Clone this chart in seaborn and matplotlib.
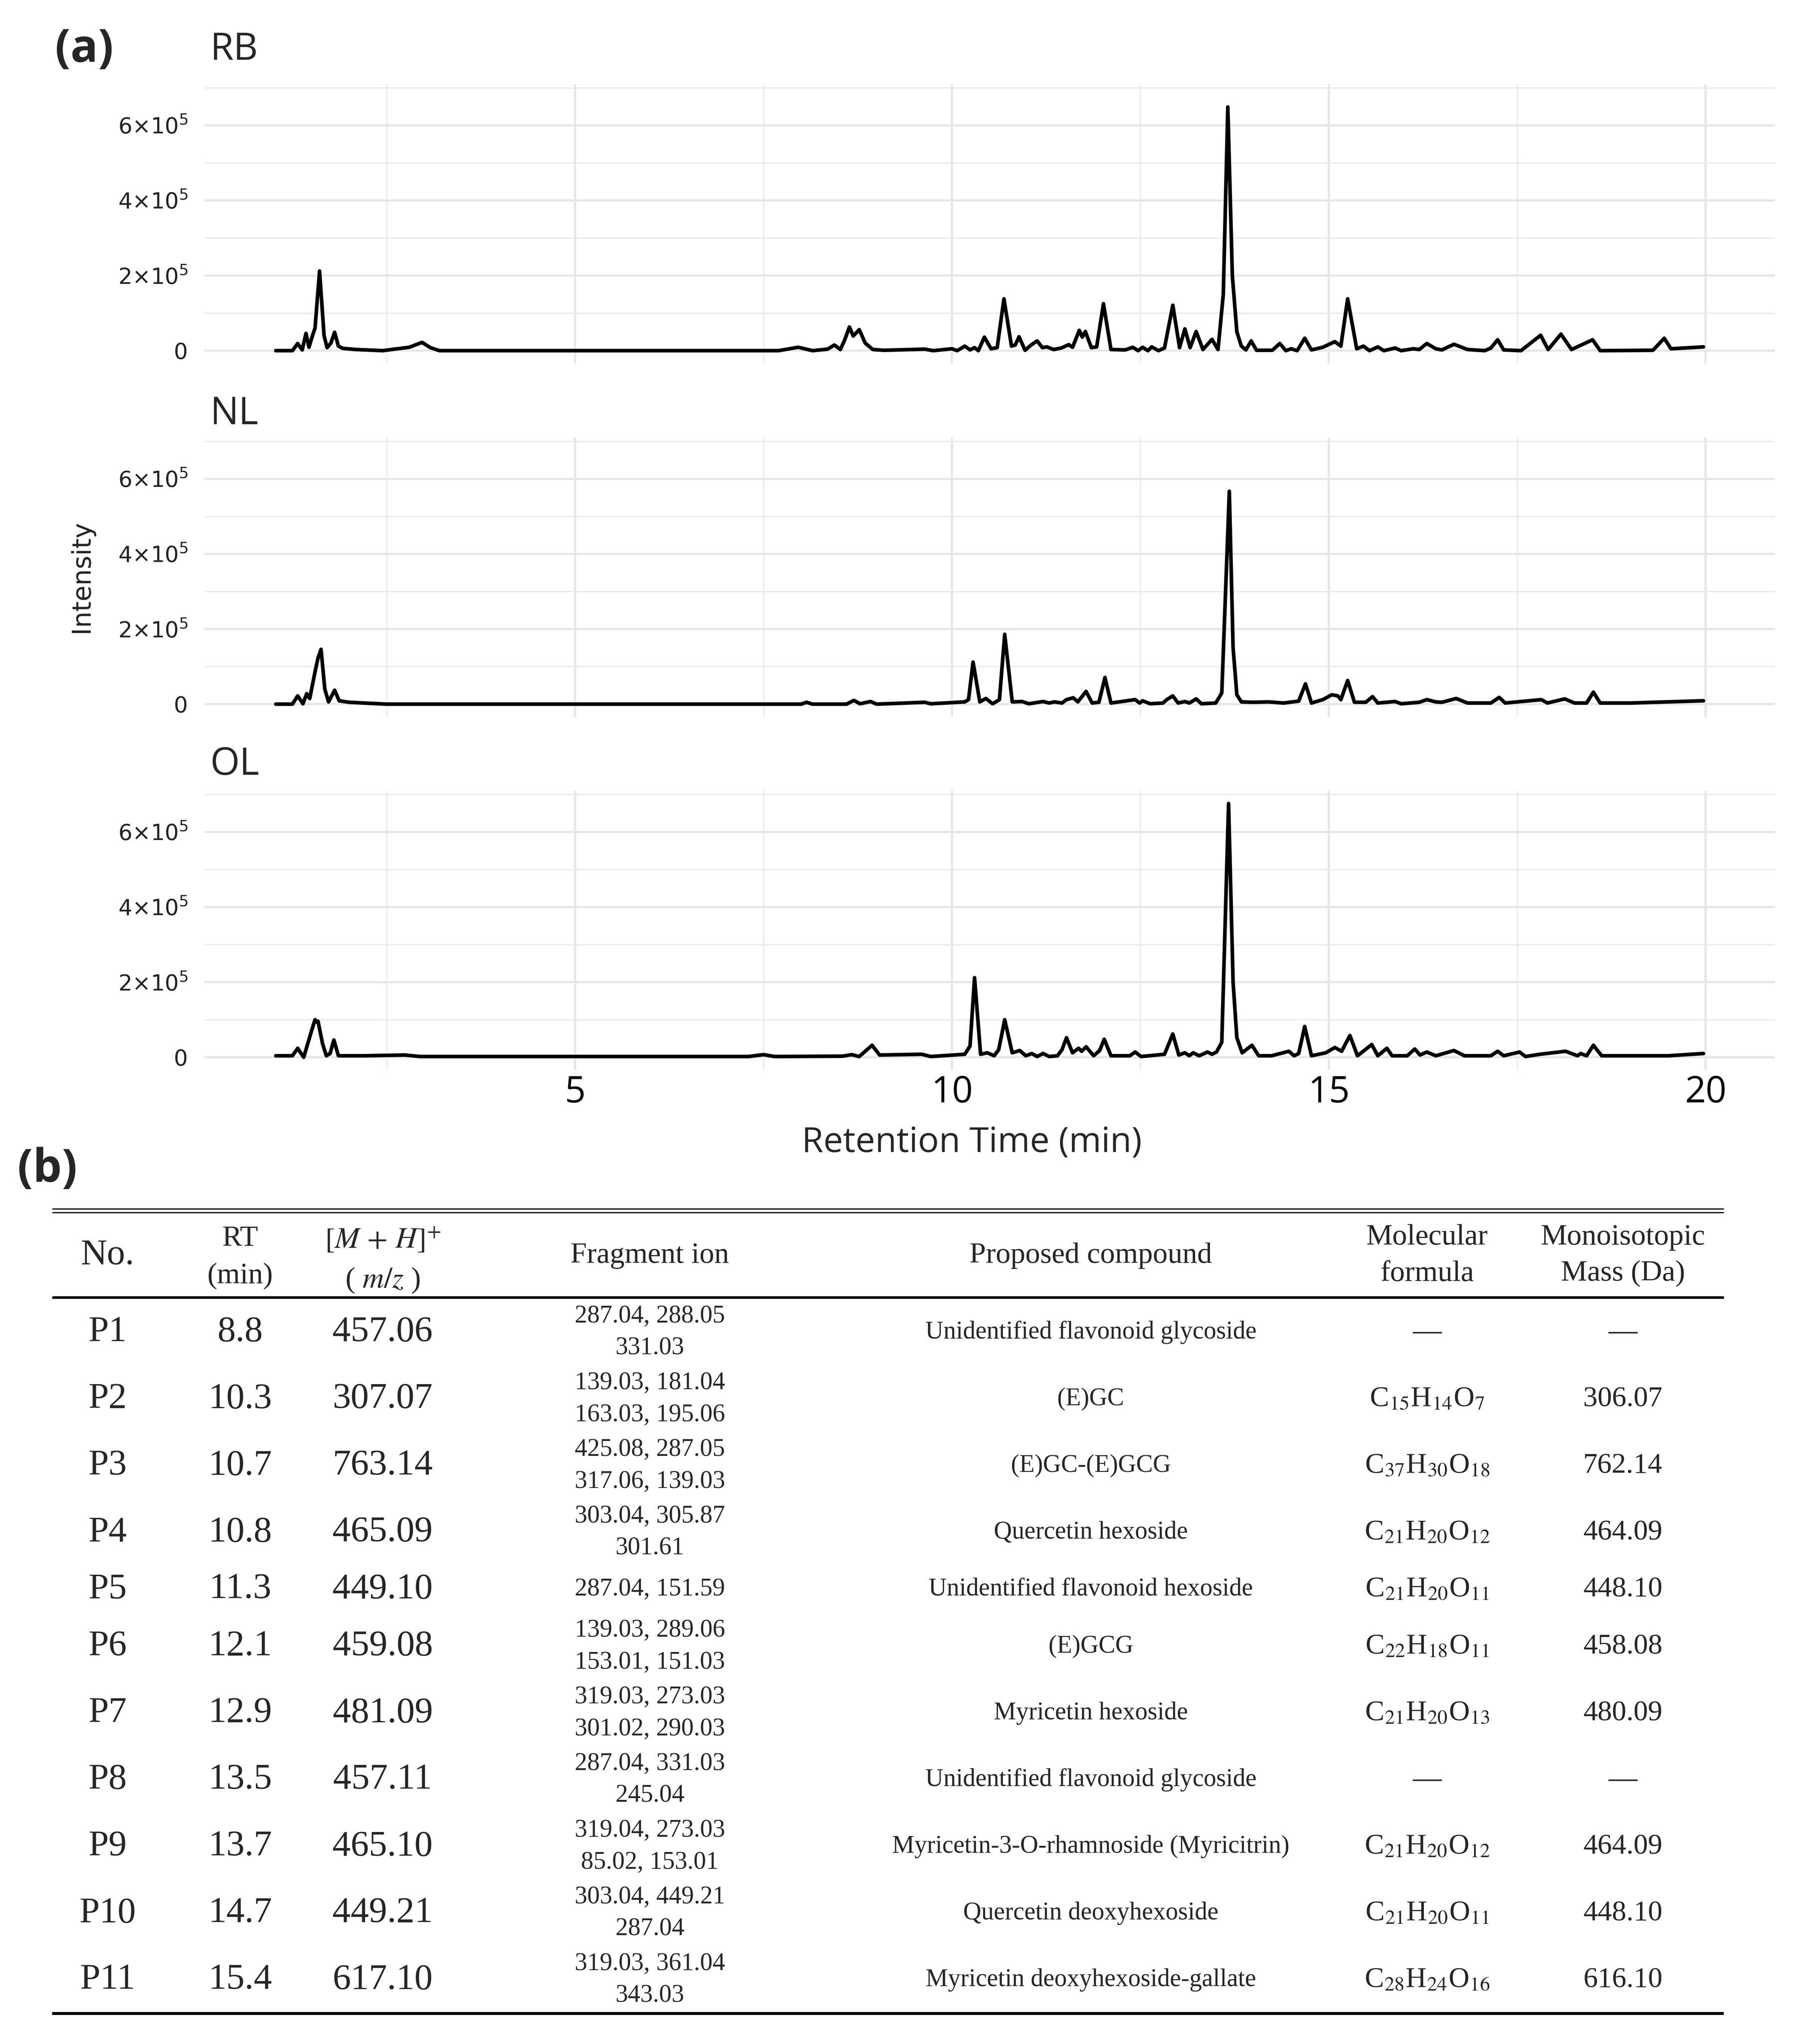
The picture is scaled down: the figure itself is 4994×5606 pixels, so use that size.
import re
import pandas as pd
import matplotlib
matplotlib.use("Agg")
import matplotlib.pyplot as plt
from matplotlib.ticker import MultipleLocator, FuncFormatter
import seaborn as sns

# ---- (a) chromatograms: retention time (min) / intensity
rb_time = [1.03, 1.25, 1.32, 1.38, 1.43, 1.47, 1.51, 1.55, 1.61, 1.67, 1.71, 1.76, 1.81, 1.86, 1.92, 2.10, 2.45,
           2.60, 2.80, 2.97, 3.08, 3.20, 7.70, 7.96, 8.15, 8.35, 8.44, 8.52, 8.58, 8.64, 8.69, 8.77, 8.85, 8.95,
           9.10, 9.64, 9.75, 10.00, 10.07, 10.17, 10.24, 10.30, 10.35, 10.43, 10.52, 10.60, 10.69, 10.79, 10.84,
           10.89, 10.97, 11.05, 11.13, 11.20, 11.26, 11.35, 11.45, 11.55, 11.60, 11.69, 11.73, 11.77, 11.85,
           11.92, 12.01, 12.11, 12.30, 12.40, 12.47, 12.53, 12.60, 12.65, 12.74, 12.82, 12.93, 13.02, 13.09,
           13.16, 13.24, 13.33, 13.45, 13.53, 13.60, 13.66, 13.72, 13.78, 13.84, 13.90, 13.97, 14.04, 14.25,
           14.35, 14.43, 14.50, 14.58, 14.68, 14.77, 14.92, 15.08, 15.16, 15.25, 15.37, 15.46, 15.54, 15.65,
           15.73, 15.88, 15.96, 16.12, 16.20, 16.30, 16.42, 16.50, 16.66, 16.84, 17.07, 17.15, 17.24, 17.32,
           17.55, 17.81, 17.91, 18.08, 18.22, 18.50, 18.60, 19.30, 19.45, 19.54, 19.97]
rb_int = [0, 0, 19000, 2000, 46000, 9000, 36000, 60000, 212000, 40000, 8000, 20000, 49000, 12000, 6000, 3000, 0,
          4000, 9000, 22000, 8000, 0, 0, 9000, 0, 4000, 15000, 3000, 30000, 63000, 39000, 56000, 20000, 3000,
          1000, 4000, 0, 5000, 0, 12000, 2000, 8000, 0, 36000, 5000, 8000, 138000, 12000, 15000,
          37000, 1000, 15000, 26000, 8000, 10000, 3000, 7000, 16000, 9000, 54000, 36000, 51000, 8000,
          10000, 125000, 3000, 2000, 9000, 0, 9000, 0, 10000, 0, 7000, 121000, 8000, 58000,
          8000, 51000, 3000, 30000, 3000, 150000, 649000, 200000, 50000, 12000, 2000, 26000, 1000, 1000,
          19000, 0, 5000, 0, 33000, 2000, 9000, 24000, 12000, 138000, 5000, 12000, 0, 10000,
          0, 7000, 0, 5000, 3000, 19000, 5000, 2000, 17000, 3000, 0, 7000, 29000, 2000,
          0, 41000, 3000, 44000, 3000, 29000, 0, 1000, 33000, 5000, 10000]

nl_time = [1.03, 1.25, 1.32, 1.39, 1.44, 1.48, 1.55, 1.59, 1.63, 1.68, 1.73, 1.81, 1.87, 2.00, 2.50, 8.00, 8.07,
           8.15, 8.60, 8.70, 8.78, 8.92, 9.00, 9.64, 9.72, 10.17, 10.22, 10.28, 10.37, 10.45, 10.54, 10.63, 10.70,
           10.80, 10.93, 11.02, 11.21, 11.29, 11.36, 11.46, 11.52, 11.61, 11.67, 11.78, 11.86, 11.95, 12.03,
           12.11, 12.43, 12.49, 12.53, 12.63, 12.80, 12.85, 12.93, 13.00, 13.09, 13.15, 13.24, 13.31, 13.50,
           13.58, 13.68, 13.73, 13.78, 13.84, 14.00, 14.20, 14.40, 14.60, 14.69, 14.77, 14.92, 15.04, 15.12,
           15.16, 15.25, 15.34, 15.49, 15.58, 15.65, 15.88, 15.96, 16.20, 16.30, 16.42, 16.50, 16.69, 16.84,
           17.15, 17.26, 17.34, 17.82, 17.90, 18.13, 18.26, 18.42, 18.51, 18.60, 19.00, 19.97]
nl_int = [0, 0, 22000, 1000, 28000, 15000, 86000, 123000, 146000, 40000, 6000, 37000, 9000, 5000, 0, 0, 5000,
          0, 0, 10000, 1000, 7000, 0, 5000, 1000, 6000, 12000, 112000, 6000, 15000, 1000, 12000, 186000,
          6000, 7000, 1000, 7000, 3000, 6000, 3000, 12000, 17000, 6000, 34000, 3000, 5000, 71000,
          3000, 12000, 3000, 9000, 1000, 3000, 12000, 22000, 3000, 7000, 3000, 14000, 1000, 3000,
          30000, 567000, 150000, 25000, 6000, 5000, 6000, 3000, 8000, 54000, 3000, 12000, 25000, 22000,
          12000, 63000, 5000, 5000, 20000, 3000, 7000, 1000, 5000, 12000, 6000, 5000, 15000, 3000,
          3000, 18000, 3000, 12000, 3000, 14000, 3000, 3000, 32000, 3000, 3000, 9000]

ol_time = [1.03, 1.25, 1.32, 1.40, 1.50, 1.55, 1.57, 1.59, 1.65, 1.70, 1.75, 1.80, 1.86, 2.20, 2.74, 2.95, 7.30,
           7.50, 7.65, 8.55, 8.67, 8.77, 8.94, 9.04, 9.60, 9.72, 10.17, 10.24, 10.30, 10.38, 10.47, 10.56, 10.62,
           10.70, 10.80, 10.90, 10.98, 11.06, 11.13, 11.21, 11.29, 11.40, 11.46, 11.52, 11.60, 11.68, 11.72,
           11.78, 11.88, 11.96, 12.02, 12.11, 12.36, 12.43, 12.51, 12.82, 12.93, 13.01, 13.09, 13.15, 13.20,
           13.28, 13.39, 13.45, 13.51, 13.58, 13.67, 13.73, 13.78, 13.85, 13.98, 14.07, 14.24, 14.47, 14.54,
           14.60, 14.68, 14.77, 14.96, 15.08, 15.17, 15.28, 15.38, 15.57, 15.65, 15.77, 15.84, 16.04, 16.14,
           16.21, 16.30, 16.42, 16.66, 16.80, 17.15, 17.24, 17.32, 17.53, 17.61, 17.80, 18.14, 18.30, 18.34,
           18.42, 18.51, 18.62, 19.50, 19.97]
ol_int = [4000, 4000, 24000, 0, 68000, 100000, 94000, 96000, 36000, 4000, 10000, 46000, 4000, 4000, 6000, 2000, 2000,
          7000, 2000, 3000, 7000, 2000, 32000, 6000, 8000, 2000, 8000, 30000, 212000, 8000, 12000, 4000, 20000,
          100000, 12000, 18000, 4000, 10000, 2000, 10000, 2000, 4000, 20000, 52000, 12000, 24000, 16000,
          28000, 4000, 18000, 48000, 4000, 4000, 14000, 2000, 8000, 62000, 6000, 12000, 4000, 12000,
          4000, 14000, 8000, 14000, 40000, 676000, 200000, 52000, 12000, 32000, 4000, 4000, 16000, 4000,
          10000, 82000, 4000, 12000, 26000, 16000, 58000, 4000, 34000, 4000, 24000, 4000, 4000, 22000,
          6000, 14000, 4000, 18000, 4000, 4000, 16000, 4000, 14000, 2000, 8000, 16000, 4000, 10000,
          4000, 32000, 4000, 4000, 10000]

samples = ["RB", "NL", "OL"]
traces = {"RB": (rb_time, rb_int), "NL": (nl_time, nl_int), "OL": (ol_time, ol_int)}

# ---- (b) table of identified peaks
peak_no = ["P1", "P2", "P3", "P4", "P5", "P6", "P7", "P8", "P9", "P10", "P11"]
peak_rt = [8.8, 10.3, 10.7, 10.8, 11.3, 12.1, 12.9, 13.5, 13.7, 14.7, 15.4]
peak_mz = [457.06, 307.07, 763.14, 465.09, 449.10, 459.08, 481.09, 457.11, 465.10, 449.21, 617.10]
frag_ions = [["287.04, 288.05", "331.03"], ["139.03, 181.04", "163.03, 195.06"],
             ["425.08, 287.05", "317.06, 139.03"], ["303.04, 305.87", "301.61"], ["287.04, 151.59"],
             ["139.03, 289.06", "153.01, 151.03"], ["319.03, 273.03", "301.02, 290.03"],
             ["287.04, 331.03", "245.04"], ["319.04, 273.03", "85.02, 153.01"],
             ["303.04, 449.21", "287.04"], ["319.03, 361.04", "343.03"]]
compounds = ["Unidentified flavonoid glycoside", "(E)GC", "(E)GC-(E)GCG", "Quercetin hexoside",
             "Unidentified flavonoid hexoside", "(E)GCG", "Myricetin hexoside",
             "Unidentified flavonoid glycoside", "Myricetin-3-O-rhamnoside (Myricitrin)",
             "Quercetin deoxyhexoside", "Myricetin deoxyhexoside-gallate"]
formulas = [None, "C15H14O7", "C37H30O18", "C21H20O12", "C21H20O11", "C22H18O11", "C21H20O13", None,
            "C21H20O12", "C21H20O11", "C28H24O16"]
mono_mass = [None, 306.07, 762.14, 464.09, 448.10, 458.08, 480.09, None, 464.09, 448.10, 616.10]

# ---- figure
W, H = 4994, 5606
DPI = 300
sns.set_theme(style="white")
plt.rcParams["font.family"] = ["Open Sans", "DejaVu Sans"]
plt.rcParams["mathtext.fontset"] = "dejavusans"

fig = plt.figure(figsize=(W / DPI, H / DPI), dpi=DPI)

# full-figure axes in pixel units for the table and labels
tab = fig.add_axes([0, 0, 1, 1], zorder=-1)
tab.set_xlim(0, W)
tab.set_ylim(H, 0)
tab.axis("off")

panel_left, panel_right = 561, 4870
panel_tops = [231, 1201, 2170]
panel_h = 766
title_y = [137, 1137, 2099]

all_int = rb_int + nl_int + ol_int
all_time = rb_time + nl_time + ol_time
ymax = max(all_int)
yspan = ymax - min(all_int)
xmin, xmax = min(all_time), max(all_time)
xspan = xmax - xmin


def sci_label(v, pos):
    if abs(v) < 1:
        return "0"
    return r"$%d{\times}10^{5}$" % round(v / 1e5)


axes = []
for i, name in enumerate(samples):
    t, y = traces[name]
    ax = fig.add_axes([panel_left / W, 1 - (panel_tops[i] + panel_h) / H,
                       (panel_right - panel_left) / W, panel_h / H])
    df = pd.DataFrame({"time": t, "intensity": y})
    sns.lineplot(data=df, x="time", y="intensity", ax=ax, color="black", linewidth=2.4,
                 estimator=None, sort=False)
    ax.set_xlim(xmin - 0.05 * xspan, xmax + 0.05 * xspan)
    ax.set_ylim(-0.05 * yspan, ymax + 0.05 * yspan)
    ax.xaxis.set_major_locator(MultipleLocator(5))
    ax.xaxis.set_minor_locator(MultipleLocator(2.5))
    ax.yaxis.set_major_locator(MultipleLocator(2e5))
    ax.yaxis.set_minor_locator(MultipleLocator(1e5))
    ax.yaxis.set_major_formatter(FuncFormatter(sci_label))
    ax.grid(which="major", color="#E6E6E6", linewidth=1.4)
    ax.grid(which="minor", color="#E9E9E9", linewidth=0.8)
    ax.set_axisbelow(True)
    for s in ax.spines.values():
        s.set_visible(False)
    ax.tick_params(which="both", length=0)
    ax.tick_params(axis="y", pad=11, labelsize=14.5, labelcolor="#222222")
    for lab in ax.get_yticklabels():
        lab.set_family("DejaVu Sans")
    ax.tick_params(axis="x", pad=3, labelsize=24, labelcolor="black")
    if i < 2:
        ax.tick_params(axis="x", labelbottom=False)
    ax.set_xlabel("")
    ax.set_ylabel("")
    tab.text(577, title_y[i], name, ha="left", va="center", fontsize=25)
    axes.append(ax)

tab.text(151, 137, "(a)", ha="left", va="center", fontsize=30, fontweight="bold")
tab.text(48, 3210, "(b)", ha="left", va="center", fontsize=30, fontweight="bold")
tab.text(2667, 3136, "Retention Time (min)", ha="center", va="center", fontsize=23)
tab.text(223, 1582, "Intensity", ha="center", va="center", rotation=90, fontsize=17,
         family="DejaVu Sans", color="#222222")

# ---- table (b)
serif = ["Liberation Serif", "DejaVu Serif"]
tab_l, tab_r = 143, 4730
tab.plot([tab_l, tab_r], [3317, 3317], color="black", lw=0.8, solid_capstyle="butt")
tab.plot([tab_l, tab_r], [3327, 3327], color="black", lw=0.8, solid_capstyle="butt")
tab.plot([tab_l, tab_r], [3560, 3560], color="black", lw=1.7, solid_capstyle="butt")
tab.plot([tab_l, tab_r], [5525, 5525], color="black", lw=1.9, solid_capstyle="butt")

col_x = {"no": 295, "rt": 659, "mz": 1050, "frag": 1783, "comp": 2993, "form": 3916, "mass": 4453}
hdr = dict(ha="center", va="center", family=serif, fontsize=19.5)
tab.text(col_x["no"], 3445, "No.", ha="center", va="center", family=serif, fontsize=24)
tab.text(col_x["rt"], 3399, "RT", **hdr)
tab.text(col_x["rt"], 3502, "(min)", **hdr)
tab.text(col_x["mz"], 3403, r"$[M\,+\,H]^{+}$", math_fontfamily="stix", **hdr)
tab.text(col_x["mz"], 3514, r"( $m/z$ )", math_fontfamily="stix", **hdr)
tab.text(col_x["frag"], 3445, "Fragment ion", **hdr)
tab.text(col_x["comp"], 3445, "Proposed compound", **hdr)
tab.text(col_x["form"], 3395, "Molecular", **hdr)
tab.text(col_x["form"], 3495, "formula", **hdr)
tab.text(col_x["mass"], 3395, "Monoisotopic", **hdr)
tab.text(col_x["mass"], 3495, "Mass (Da)", **hdr)

row_h = [183 if len(f) == 2 else 130 for f in frag_ions]
yc = 3656
for k in range(len(peak_no)):
    if k > 0:
        yc += (row_h[k - 1] + row_h[k]) / 2
    cell = dict(ha="center", va="center", family=serif)
    tab.text(col_x["no"], yc, peak_no[k], fontsize=24, **cell)
    tab.text(col_x["rt"], yc, f"{peak_rt[k]:.1f}", fontsize=24, **cell)
    tab.text(col_x["mz"], yc, f"{peak_mz[k]:.2f}", fontsize=24, **cell)
    lines = frag_ions[k]
    if len(lines) == 2:
        tab.text(col_x["frag"], yc - 44, lines[0], fontsize=16.5, **cell)
        tab.text(col_x["frag"], yc + 44, lines[1], fontsize=16.5, **cell)
    else:
        tab.text(col_x["frag"], yc, lines[0], fontsize=16.5, **cell)
    tab.text(col_x["comp"], yc, compounds[k], fontsize=16.5, **cell)
    if formulas[k] is None:
        tab.text(col_x["form"], yc, "\u2014", fontsize=19, **cell)
        tab.text(col_x["mass"], yc, "\u2014", fontsize=19, **cell)
    else:
        f_txt = re.sub(r"(\d+)", r"$_{\1}$", formulas[k])
        tab.text(col_x["form"], yc, f_txt, fontsize=19, math_fontfamily="stix", **cell)
        tab.text(col_x["mass"], yc, f"{mono_mass[k]:.2f}", fontsize=19, **cell)

fig.savefig("out.png", dpi=DPI, facecolor="white")
